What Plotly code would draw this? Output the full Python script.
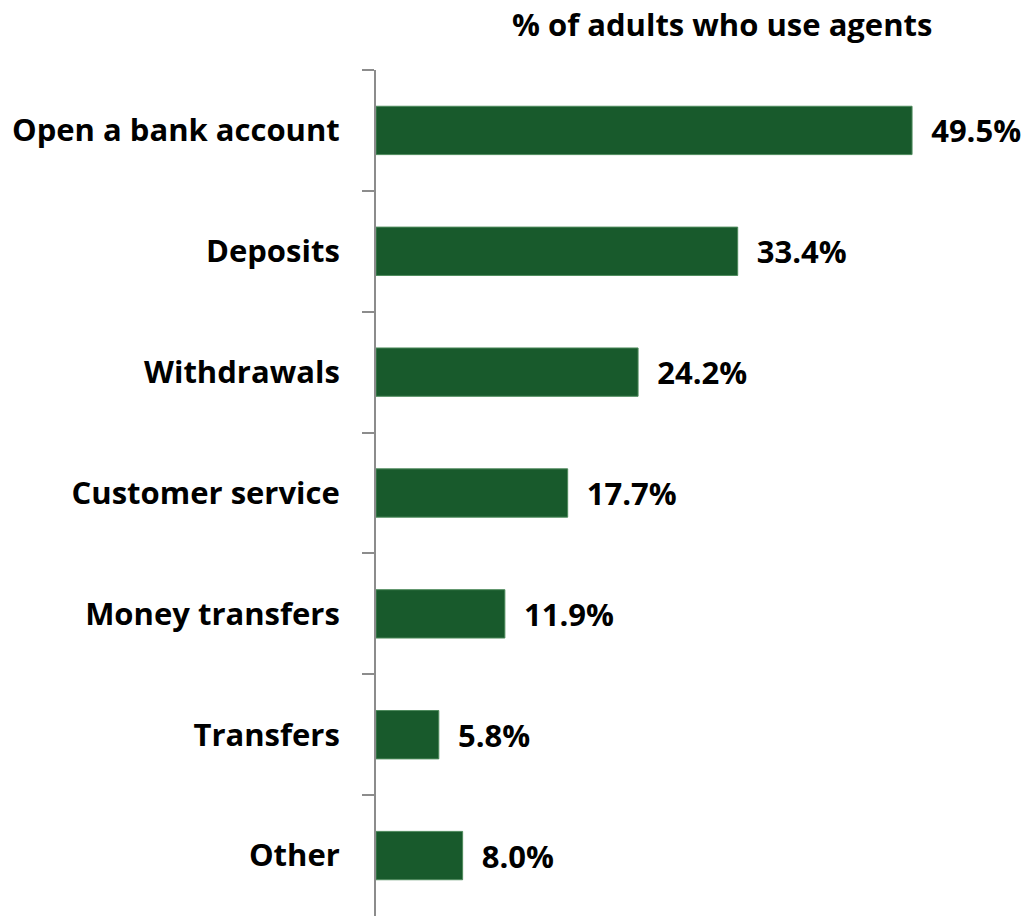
import plotly.graph_objects as go

categories = ["Open a bank account", "Deposits", "Withdrawals", "Customer service",
              "Money transfers", "Transfers", "Other"]
shares = [49.5, 33.4, 24.2, 17.7, 11.9, 5.8, 8.0]
value_labels = ["49.5%", "33.4%", "24.2%", "17.7%", "11.9%", "5.8%", "8.0%"]

FONT = "Open Sans"

fig = go.Figure(
    go.Bar(
        x=shares,
        y=categories,
        orientation="h",
        marker=dict(color="#185a2c", line=dict(color="#4e8a5c", width=1)),
        text=["  " + t for t in value_labels],
        textposition="outside",
        textfont=dict(family=FONT, size=31, color="#000000", weight="bold"),
        cliponaxis=False,
        width=0.4,
    )
)

fig.update_layout(
    width=1025,
    height=916,
    margin=dict(l=376, r=0, t=70, b=0),
    paper_bgcolor="white",
    plot_bgcolor="white",
    showlegend=False,
    font=dict(family=FONT, color="#000000"),
    xaxis=dict(range=[0, 59.93], visible=False, fixedrange=True),
    yaxis=dict(
        type="category",
        categoryorder="array",
        categoryarray=categories,
        autorange=False,
        range=[6.5, -0.5],
        showline=True,
        linecolor="#8c8c8c",
        linewidth=2,
        ticks="outside",
        tickson="boundaries",
        ticklen=12,
        tickwidth=2,
        tickcolor="#8c8c8c",
        ticklabelstandoff=28,
        showgrid=False,
        tickfont=dict(family=FONT, size=31, color="#000000", weight="bold"),
    ),
    annotations=[
        dict(
            text="% of adults who use agents",
            x=(722 - 376) / 649, y=1 + (70 - 24) / 846,
            xref="paper", yref="paper", xanchor="center", yanchor="middle",
            showarrow=False,
            font=dict(family=FONT, size=31, color="#000000", weight="bold"),
        )
    ],
)

fig.write_html("out.html")
